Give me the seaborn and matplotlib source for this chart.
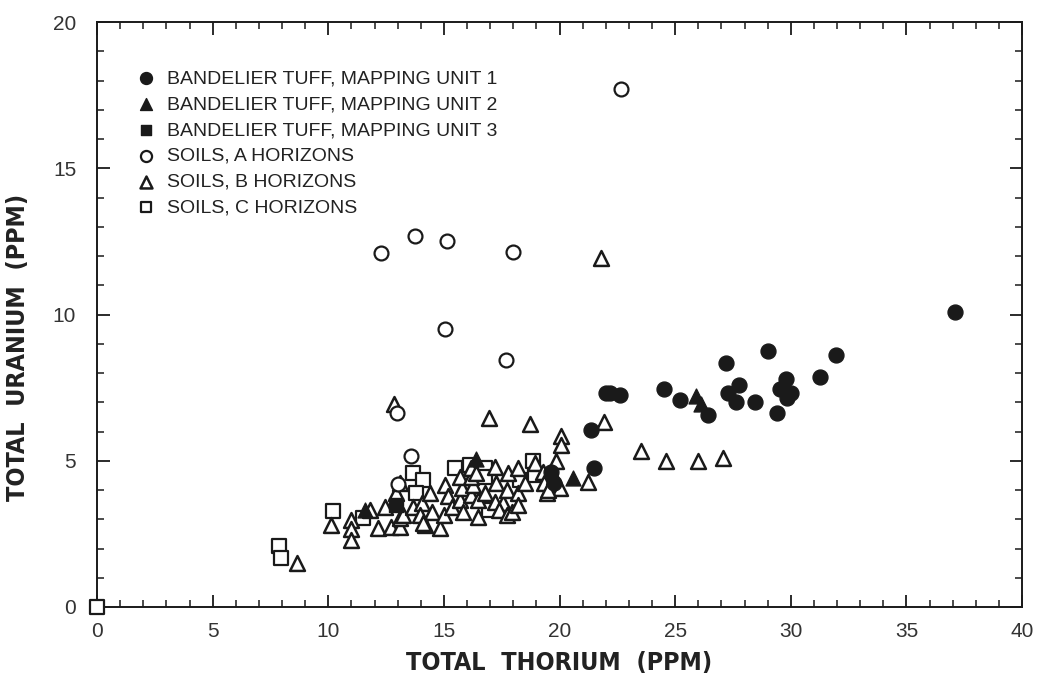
import numpy as np
import pandas as pd
import matplotlib
matplotlib.use("Agg")
import matplotlib.pyplot as plt
import seaborn as sns
from matplotlib.ticker import MultipleLocator

# ---- data ----
unit1_x = [37.1, 31.95, 31.25, 29.0, 27.2, 27.75, 27.3, 27.65, 28.45, 29.4, 29.8, 29.55,
           30.0, 29.85, 24.5, 25.2, 26.4, 22.0, 22.2, 22.6, 21.35, 21.5, 19.65, 19.75]
unit1_y = [10.1, 8.6, 7.85, 8.74, 8.35, 7.6, 7.3, 7.0, 7.0, 6.63, 7.8, 7.46,
           7.32, 7.15, 7.46, 7.07, 6.58, 7.32, 7.32, 7.26, 6.04, 4.75, 4.6, 4.25]

unit2_x = [16.4, 20.6, 25.9, 26.1, 11.6]
unit2_y = [5.07, 4.4, 7.2, 6.95, 3.3]

unit3_x = [12.95]
unit3_y = [3.5]

soilA_x = [22.65, 12.28, 13.75, 15.13, 18.0, 15.05, 17.68, 12.97, 13.58, 13.03]
soilA_y = [17.7, 12.09, 12.67, 12.5, 12.12, 9.49, 8.46, 6.64, 5.15, 4.21]

soilB_x = [21.8, 12.85, 16.97, 18.73, 21.93, 23.52, 24.6, 26.0, 27.05, 20.05, 20.05, 21.24,
           8.67, 10.12, 11.0, 11.0, 11.0, 11.8, 12.15, 12.45, 12.95, 12.7, 13.1, 13.1,
           13.1, 13.25, 13.68, 14.05, 14.4, 14.47, 14.2, 14.84, 15.0, 15.05, 15.18, 15.33,
           15.68, 15.78, 15.68, 15.84, 16.18, 16.28, 16.18, 16.18, 16.47, 16.41, 16.47, 16.77,
           17.2, 17.27, 17.2, 17.57, 17.71, 17.76, 17.37, 17.71, 17.93, 18.22, 18.22, 18.22,
           18.5, 18.93, 19.3, 19.35, 19.45, 19.75, 19.85, 20.0, 19.52, 13.96, 14.1]
soilB_y = [11.92, 6.95, 6.47, 6.27, 6.34, 5.32, 4.98, 4.98, 5.11, 5.83, 5.55, 4.29,
           1.52, 2.81, 2.98, 2.65, 2.29, 3.32, 2.7, 3.43, 3.9, 2.75, 2.75, 3.05,
           4.24, 3.15, 3.43, 3.55, 3.9, 3.26, 2.8, 2.7, 3.15, 4.18, 3.78, 3.43,
           3.66, 4.07, 4.46, 3.26, 3.84, 4.18, 4.46, 4.75, 3.09, 4.58, 3.66, 3.89,
           4.8, 4.24, 3.6, 3.55, 4.0, 4.58, 3.32, 3.15, 3.26, 4.75, 3.89, 3.49,
           4.24, 4.92, 4.63, 4.24, 3.89, 4.46, 4.98, 4.07, 4.0, 3.15, 2.87]

soilC_x = [0.0, 7.88, 7.96, 10.22, 11.5, 13.65, 14.1, 13.8, 15.48, 16.77, 16.77, 18.29,
           18.86, 18.95, 16.97, 16.13]
soilC_y = [0.0, 2.09, 1.67, 3.29, 3.04, 4.58, 4.35, 3.9, 4.75, 4.75, 4.46, 4.35,
           4.98, 4.52, 3.32, 4.86]

labels = ["BANDELIER TUFF, MAPPING UNIT 1", "BANDELIER TUFF, MAPPING UNIT 2",
          "BANDELIER TUFF, MAPPING UNIT 3", "SOILS, A HORIZONS",
          "SOILS, B HORIZONS", "SOILS, C HORIZONS"]

x_ticks = [0, 5, 10, 15, 20, 25, 30, 35, 40]
y_ticks = [0, 5, 10, 15, 20]

# ---- plot ----
sns.set_style("ticks")
plt.rcParams['font.family'] = ['Liberation Sans', 'DejaVu Sans']

fig = plt.figure(figsize=(10.4, 6.77), dpi=100)
ax = fig.add_axes([97/1040, 1-607/677, (1022-97)/1040, (607-22)/677])

ink = "#1a1a1a"
groups = [
    (soilC_x, soilC_y, "s", "white", 95, 1.6, labels[5]),
    (soilB_x, soilB_y, "^", "white", 115, 1.8, labels[4]),
    (soilA_x, soilA_y, "o", "white", 100, 1.6, labels[3]),
    (unit3_x, unit3_y, "s", ink, 95, 1.0, labels[2]),
    (unit2_x, unit2_y, "^", ink, 115, 1.0, labels[1]),
    (unit1_x, unit1_y, "o", ink, 115, 1.0, labels[0]),
]
for gx, gy, m, fc, s, lw, lab in groups:
    sns.scatterplot(x=gx, y=gy, ax=ax, marker=m, s=s, facecolor=fc,
                    edgecolor=ink, linewidth=lw, label=lab, clip_on=False, zorder=3)

ax.set_xlim(0, 40)
ax.set_ylim(0, 20)
ax.xaxis.set_major_locator(MultipleLocator(5))
ax.xaxis.set_minor_locator(MultipleLocator(1))
ax.yaxis.set_major_locator(MultipleLocator(5))
ax.yaxis.set_minor_locator(MultipleLocator(1))
ax.set_xticks(x_ticks)
ax.set_yticks(y_ticks)
ax.tick_params(which="both", direction="in", top=True, right=True, color=ink)
ax.tick_params(which="major", length=9, width=1.3, labelsize=15, labelcolor="#333333")
ax.tick_params(axis="x", which="major", pad=11)
ax.tick_params(axis="y", which="major", pad=15)
ax.tick_params(which="minor", length=5, width=1.1)
for sp in ax.spines.values():
    sp.set_linewidth(1.4)
    sp.set_color(ink)

ax.set_xlabel("TOTAL  THORIUM  (PPM)", fontsize=18, fontweight="bold",
              family=['DejaVu Sans'], fontstretch="condensed", labelpad=7, color="#222222")
ax.set_ylabel("TOTAL  URANIUM  (PPM)", fontsize=18, fontweight="bold",
              family=['DejaVu Sans'], fontstretch="condensed", color="#222222")
ax.yaxis.set_label_coords((30-97)/925, (607-347)/585)

# legend in original order
handles, labs = ax.get_legend_handles_labels()
order = [labs.index(l) for l in labels]
ax.legend([handles[i] for i in order], [labs[i] for i in order],
          loc="upper left", bbox_to_anchor=(0.043, 0.918), frameon=False,
          fontsize=14, markerscale=0.8, handletextpad=0.55, labelspacing=0.42,
          borderaxespad=0, borderpad=0, handlelength=1.0, labelcolor="#222222")

fig.savefig("out.png", dpi=100)
